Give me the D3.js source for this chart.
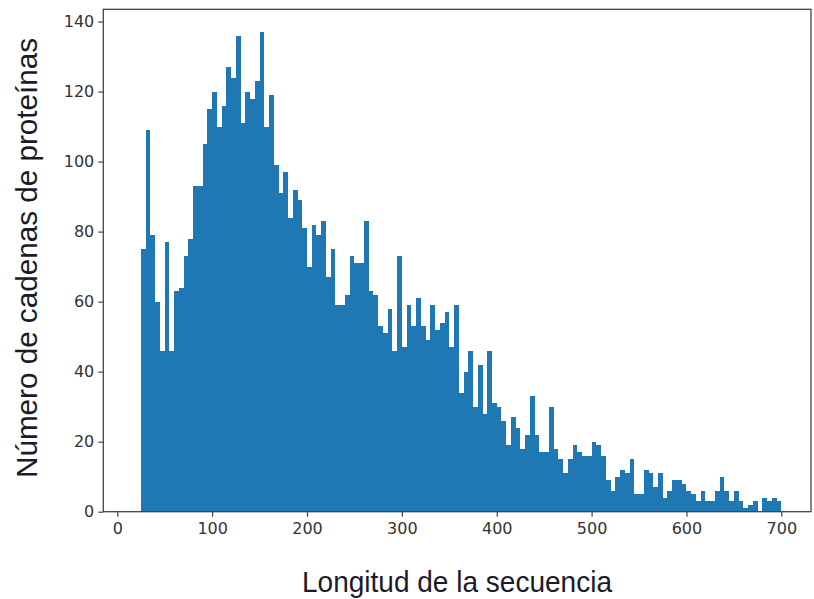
<!DOCTYPE html>
<html>
<head>
<meta charset="utf-8">
<script src="https://cdn.jsdelivr.net/npm/d3@7"></script>
<style>
  html, body { margin: 0; padding: 0; background: #fff; }
  svg { display: block; }
</style>
</head>
<body>
<svg id="chart" width="814" height="599"></svg>
<script>
// Histogram of protein chain lengths: 135 bins of width 5, from 25 to 700
const binStart = 25;
const binWidth = 5;
const counts = [
  75, 109, 79, 60, 46, 77, 46, 63, 64, 73,
  78, 93, 93, 105, 115, 120, 110, 116, 127, 124,
  136, 111, 120, 118, 123, 137, 110, 119, 99, 91,
  97, 84, 92, 89, 81, 70, 82, 79, 83, 67,
  75, 59, 59, 62, 73, 71, 71, 83, 63, 62,
  53, 51, 58, 46, 73, 47, 59, 53, 61, 53,
  49, 59, 52, 54, 57, 47, 59, 34, 40, 46,
  30, 42, 28, 46, 31, 30, 26, 19, 27, 24,
  18, 22, 33, 22, 17, 17, 30, 18, 15, 11,
  15, 19, 17, 16, 16, 20, 19, 16, 9, 6,
  10, 12, 11, 15, 5, 5, 12, 11, 7, 11,
  4, 6, 9, 9, 8, 6, 5, 3, 6, 3,
  3, 6, 10, 6, 3, 6, 3, 1, 2, 3,
  0, 4, 3, 4, 3
];
const xTicks = [0, 100, 200, 300, 400, 500, 600, 700];
const yTicks = [0, 20, 40, 60, 80, 100, 120, 140];
const xLabel = "Longitud de la secuencia";
const yLabel = "Número de cadenas de proteínas";

const bins = counts.map((c, i) => ({
  x0: binStart + i * binWidth,
  x1: binStart + (i + 1) * binWidth,
  count: c
}));

const svg = d3.select("#chart");
const plot = { left: 103.3, right: 811, top: 9.3, bottom: 511.7 };

const x = d3.scaleLinear().domain([-14.75, 731.3]).range([plot.left, plot.right]);
const y = d3.scaleLinear().domain([0, 143.5]).range([plot.bottom, plot.top]);

const barColor = "#1f77b4";

// bars (crisp edges so neighbouring bins join without seams)
svg.append("g")
  .attr("shape-rendering", "crispEdges")
  .selectAll("rect")
  .data(bins)
  .join("rect")
  .attr("x", d => x(d.x0))
  .attr("width", d => x(d.x1) - x(d.x0))
  .attr("y", d => y(d.count))
  .attr("height", d => y(0) - y(d.count))
  .attr("fill", barColor);

// frame
const spineColor = "#444";
svg.append("rect")
  .attr("x", plot.left)
  .attr("y", plot.top)
  .attr("width", plot.right - plot.left)
  .attr("height", plot.bottom - plot.top)
  .attr("fill", "none")
  .attr("stroke", spineColor)
  .attr("stroke-width", 1.3);

const tickFont = "DejaVu Sans, sans-serif";

// x axis
const xAxis = d3.axisBottom(x).tickValues(xTicks).tickSize(5).tickPadding(6).tickFormat(d3.format("d"));
const gx = svg.append("g").attr("transform", `translate(0,${plot.bottom})`).call(xAxis);
gx.select(".domain").remove();
gx.selectAll("line").attr("stroke", spineColor).attr("stroke-width", 1.2);
gx.selectAll("text").attr("fill", "#333").style("font-family", tickFont).style("font-size", "16px");

// y axis
const yAxis = d3.axisLeft(y).tickValues(yTicks).tickSize(5).tickPadding(4).tickFormat(d3.format("d"));
const gy = svg.append("g").attr("transform", `translate(${plot.left},0)`).call(yAxis);
gy.select(".domain").remove();
gy.selectAll("line").attr("stroke", spineColor).attr("stroke-width", 1.2);
gy.selectAll("text").attr("fill", "#333").style("font-family", tickFont).style("font-size", "16px");

// axis titles
const titleFont = "Liberation Sans, Arial, sans-serif";
svg.append("text")
  .attr("x", 457)
  .attr("y", 592)
  .attr("text-anchor", "middle")
  .attr("fill", "#1a1a2a")
  .attr("textLength", 310)
  .attr("lengthAdjust", "spacingAndGlyphs")
  .style("font-family", titleFont)
  .style("font-size", "29px")
  .text(xLabel);

svg.append("text")
  .attr("transform", "translate(37,258) rotate(-90)")
  .attr("text-anchor", "middle")
  .attr("fill", "#1a1a2a")
  .attr("textLength", 440)
  .attr("lengthAdjust", "spacingAndGlyphs")
  .style("font-family", titleFont)
  .style("font-size", "29px")
  .text(yLabel);
</script>
</body>
</html>
